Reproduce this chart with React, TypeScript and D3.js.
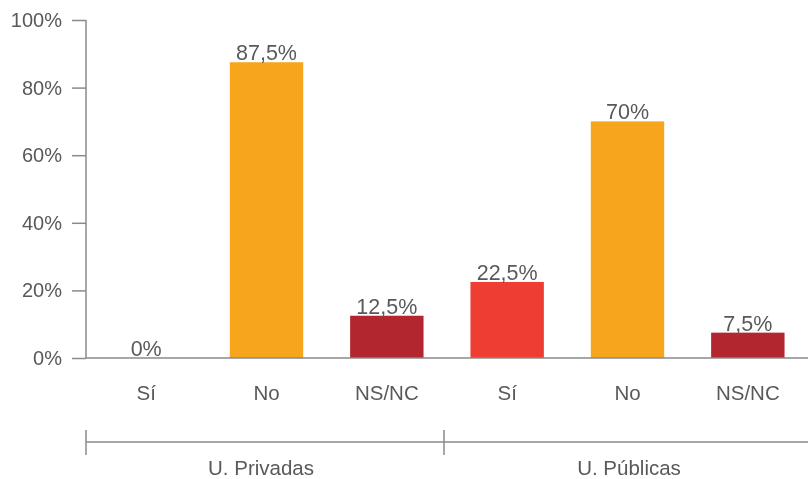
import { axisLeft, scaleBand, scaleLinear, select } from "d3";
import { useEffect, useRef } from "react";

const groups = ["U. Privadas", "U. Públicas"];
const answers = ["Sí", "No", "NS/NC"];
const privadas = [0, 87.5, 12.5];
const publicas = [22.5, 70, 7.5];
const valueLabels = ["0%", "87,5%", "12,5%", "22,5%", "70%", "7,5%"];
const yTicks = [0, 20, 40, 60, 80, 100];
const answerColors = ["#ee3e33", "#f6a51d", "#b1262f"];

const WIDTH = 808;
const HEIGHT = 479;
const TEXT = "#58595b";
const LINE = "#8a8a8a";
const FONT = "'Liberation Sans', Arial, Helvetica, sans-serif";

const App = () => {
  const ref = useRef<SVGSVGElement>(null);

  useEffect(() => {
    if (!ref.current) return;
    const svg = select(ref.current);
    svg.selectAll("*").remove();

    const rows = [privadas, publicas].flatMap((vals, g) =>
      vals.map((v, i) => ({
        key: `${g}-${i}`,
        group: g,
        answer: answers[i],
        value: v,
        color: answerColors[i],
        label: valueLabels[g * answers.length + i],
      }))
    );

    const left = 86;
    const x = scaleBand<string>()
      .domain(rows.map((r) => r.key))
      .range([left, WIDTH])
      .paddingInner(0.39)
      .paddingOuter(0.195);
    const y = scaleLinear().domain([0, 100]).range([358, 20]);

    // y axis
    const yAxis = axisLeft(y)
      .tickValues(yTicks)
      .tickSize(14)
      .tickPadding(10)
      .tickFormat((d) => `${d}%`);
    const ya = svg.append("g").attr("transform", `translate(${left},0)`).call(yAxis);
    ya.select(".domain")
      .attr("stroke", LINE)
      .attr("stroke-width", 1.5)
      .attr("d", `M0,${y(100)}V${y(0)}`);
    ya.selectAll(".tick line").attr("stroke", LINE).attr("stroke-width", 1.5);
    ya.selectAll(".tick text")
      .attr("fill", TEXT)
      .style("font-family", FONT)
      .style("font-size", "20px");

    // bars
    svg
      .selectAll(".bar")
      .data(rows)
      .join("rect")
      .attr("class", "bar")
      .attr("x", (d) => x(d.key)!)
      .attr("y", (d) => y(d.value))
      .attr("width", x.bandwidth())
      .attr("height", (d) => y(0) - y(d.value))
      .attr("fill", (d) => d.color);

    // value labels
    svg
      .selectAll(".val")
      .data(rows)
      .join("text")
      .attr("class", "val")
      .attr("x", (d) => x(d.key)! + x.bandwidth() / 2)
      .attr("y", (d) => y(d.value) - 2)
      .attr("text-anchor", "middle")
      .attr("fill", TEXT)
      .style("font-family", FONT)
      .style("font-size", "21.5px")
      .text((d) => d.label);

    // x baseline
    svg
      .append("line")
      .attr("x1", left)
      .attr("x2", WIDTH)
      .attr("y1", y(0))
      .attr("y2", y(0))
      .attr("stroke", LINE)
      .attr("stroke-width", 1.5);

    // category labels
    svg
      .selectAll(".cat")
      .data(rows)
      .join("text")
      .attr("class", "cat")
      .attr("x", (d) => x(d.key)! + x.bandwidth() / 2)
      .attr("y", 400)
      .attr("text-anchor", "middle")
      .attr("fill", TEXT)
      .style("font-family", FONT)
      .style("font-size", "20.5px")
      .text((d) => d.answer);

    // group bracket
    const step = x.step();
    const groupStart = (g: number) => x(`${g}-0`)! - (step - x.bandwidth()) / 2 - 3;
    const bracketY = 442;
    svg
      .append("line")
      .attr("x1", left)
      .attr("x2", WIDTH)
      .attr("y1", bracketY)
      .attr("y2", bracketY)
      .attr("stroke", LINE)
      .attr("stroke-width", 1.5);
    const sepX = [left, groupStart(1)];
    svg
      .selectAll(".sep")
      .data(sepX)
      .join("line")
      .attr("class", "sep")
      .attr("x1", (d) => d)
      .attr("x2", (d) => d)
      .attr("y1", bracketY - 12)
      .attr("y2", bracketY + 13)
      .attr("stroke", LINE)
      .attr("stroke-width", 1.5);

    svg
      .selectAll(".grp")
      .data(groups)
      .join("text")
      .attr("class", "grp")
      .attr("x", (_, g) => {
        const a = g === 0 ? left : groupStart(1);
        const b = g === 0 ? groupStart(1) : WIDTH;
        return (a + b) / 2 - (g === 0 ? 4 : -3);
      })
      .attr("y", 475)
      .attr("text-anchor", "middle")
      .attr("fill", TEXT)
      .style("font-family", FONT)
      .style("font-size", "20.5px")
      .text((d) => d);
  }, []);

  return (
    <div style={{ position: "fixed", left: 0, top: 0 }}>
      <svg ref={ref} width={WIDTH} height={HEIGHT} style={{ display: "block" }} />
    </div>
  );
};

export default App;
